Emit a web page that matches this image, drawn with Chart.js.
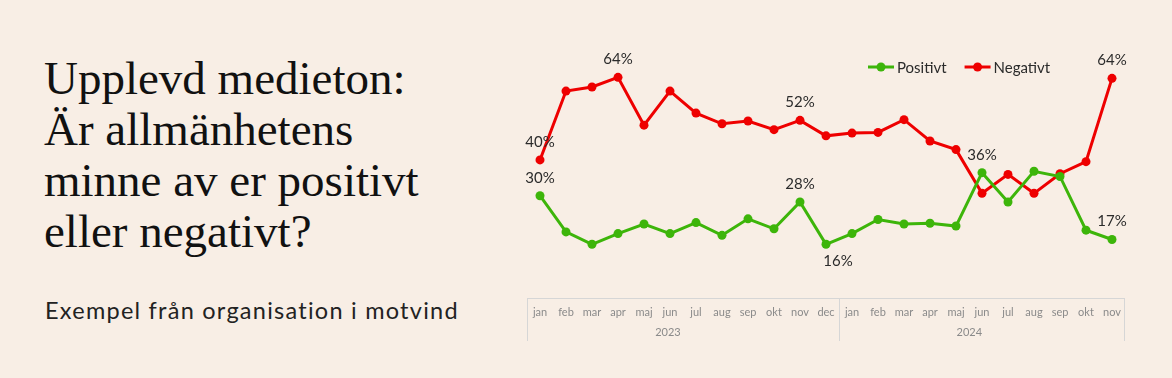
<!DOCTYPE html>
<html>
<head>
<meta charset="utf-8">
<script src="https://cdn.jsdelivr.net/npm/chart.js@4"></script>
<style>
    html, body {
        margin: 0;
        padding: 0;
        width: 1172px;
        height: 378px;
        background: #F8EEE5;
        overflow: hidden;
    }
    #title {
        position: absolute;
        left: 44px;
        top: 53px;
        margin: 0;
        font-family: "Liberation Serif", "DejaVu Serif", serif;
        font-weight: normal;
        font-size: 47px;
        line-height: 51px;
        color: #111;
    }
    #subtitle {
        position: absolute;
        left: 45px;
        top: 296px;
        margin: 0;
        font-family: "Lato", sans-serif;
        font-size: 23.5px;
        letter-spacing: 1.25px;
        color: #222;
    }
    #chartBox {
        position: absolute;
        left: 520px;
        top: 0;
        width: 652px;
        height: 378px;
    }
</style>
</head>
<body>
<h1 id="title">Upplevd medieton:<br>Är allmänhetens<br>minne av er positivt<br>eller negativt?</h1>
<p id="subtitle">Exempel från organisation i motvind</p>
<div id="chartBox"><canvas id="toneChart" width="652" height="378"></canvas></div>

<script>
const months = ['jan', 'feb', 'mar', 'apr', 'maj', 'jun', 'jul', 'aug', 'sep', 'okt', 'nov', 'dec',
                'jan', 'feb', 'mar', 'apr', 'maj', 'jun', 'jul', 'aug', 'sep', 'okt', 'nov'];
const years = ['2023', '2024'];
const yearLengths = [12, 11];

const positivt = [29.7, 19.2, 15.6, 18.7, 21.5, 18.7, 21.9, 18.2, 23.0, 20.1, 27.9, 15.6,
                  18.7, 22.8, 21.5, 21.7, 20.9, 36.4, 27.9, 36.8, 35.3, 19.7, 17.0];
const negativt = [40.1, 60.1, 61.3, 64.1, 50.2, 60.1, 53.7, 50.6, 51.4, 48.9, 51.6, 47.1,
                  47.9, 48.1, 51.8, 45.6, 43.1, 30.4, 35.9, 30.4, 36.1, 39.6, 63.8];

// which points get a value label
const positivtLabels = [0, 10, 11, 17, 22];
const negativtLabels = [0, 3, 10, 22];

const GREEN = '#3DB50A';
const RED = '#EE0000';
const FONT = 'Lato, sans-serif';

// value labels above (or below) chosen points
const valueLabels = {
    id: 'valueLabels',
    afterDatasetsDraw(chart) {
        const ctx = chart.ctx;
        ctx.save();
        ctx.font = '15px ' + FONT;
        ctx.fillStyle = '#2b2b2b';
        ctx.textAlign = 'center';
        ctx.textBaseline = 'middle';
        chart.data.datasets.forEach((ds, di) => {
            const meta = chart.getDatasetMeta(di);
            ds.labelIndexes.forEach(i => {
                const pt = meta.data[i];
                const below = ds.data[i] < 17 && i === 11;
                const x = below ? pt.x + 12 : pt.x;
                const y = below ? pt.y + 17 : pt.y - 18;
                ctx.fillText(Math.round(ds.data[i]) + '%', x, y);
            });
        });
        ctx.restore();
    }
};

// legend drawn in the upper right, line with a dot
const lineLegend = {
    id: 'lineLegend',
    afterDraw(chart) {
        const ctx = chart.ctx;
        const area = chart.chartArea;
        let x = area.right - 257;
        const y = 67;
        ctx.save();
        ctx.font = '15px ' + FONT;
        ctx.textBaseline = 'middle';
        chart.data.datasets.forEach(ds => {
            ctx.strokeStyle = ds.borderColor;
            ctx.fillStyle = ds.borderColor;
            ctx.lineWidth = 3;
            ctx.beginPath();
            ctx.moveTo(x, y);
            ctx.lineTo(x + 26, y);
            ctx.stroke();
            ctx.beginPath();
            ctx.arc(x + 13, y, 4.5, 0, Math.PI * 2);
            ctx.fill();
            ctx.fillStyle = '#2b2b2b';
            ctx.fillText(ds.label, x + 29, y + 1);
            x += 29 + ctx.measureText(ds.label).width + 18;
        });
        ctx.restore();
    }
};

// box around the month axis with year row
const axisBox = {
    id: 'axisBox',
    afterDraw(chart) {
        const ctx = chart.ctx;
        const sx = chart.scales.x;
        const step = sx.getPixelForValue(1) - sx.getPixelForValue(0);
        const top = sx.top;
        const bottom = sx.bottom;
        ctx.save();
        ctx.strokeStyle = '#D6D6D6';
        ctx.lineWidth = 1;
        ctx.beginPath();
        ctx.moveTo(sx.left, top + 0.5);
        ctx.lineTo(sx.right, top + 0.5);
        ctx.moveTo(Math.round(sx.left) + 0.5, top);
        ctx.lineTo(Math.round(sx.left) + 0.5, bottom);
        ctx.moveTo(Math.round(sx.right) - 0.5, top);
        ctx.lineTo(Math.round(sx.right) - 0.5, bottom);
        const split = Math.round(sx.getPixelForValue(yearLengths[0] - 1) + step / 2) + 0.5;
        ctx.moveTo(split, top);
        ctx.lineTo(split, bottom);
        ctx.stroke();

        ctx.font = '11px ' + FONT;
        ctx.fillStyle = '#8a8a8a';
        ctx.textAlign = 'center';
        ctx.textBaseline = 'middle';
        let start = 0;
        years.forEach((yr, k) => {
            const mid = start + yearLengths[k] * 0.41;
            ctx.fillText(yr, sx.getPixelForValue(0) + mid * step, top + 34);
            start += yearLengths[k];
        });
        ctx.restore();
    }
};

const ctx1 = document.getElementById('toneChart').getContext('2d');

const chartData = {
    labels: months,
    datasets: [
        {
            label: 'Positivt',
            data: positivt,
            labelIndexes: positivtLabels,
            borderColor: GREEN,
            backgroundColor: GREEN,
            pointBackgroundColor: GREEN,
            borderWidth: 3,
            pointRadius: 4.5,
            pointBorderWidth: 0,
            tension: 0,
            clip: false
        },
        {
            label: 'Negativt',
            data: negativt,
            labelIndexes: negativtLabels,
            borderColor: RED,
            backgroundColor: RED,
            pointBackgroundColor: RED,
            borderWidth: 3,
            pointRadius: 4.5,
            pointBorderWidth: 0,
            tension: 0,
            clip: false
        }
    ]
};

const config = {
    type: 'line',
    data: chartData,
    options: {
        responsive: false,
        animation: false,
        layout: {
            padding: { left: 7, right: 47, top: 57, bottom: 37 }
        },
        plugins: {
            legend: { display: false },
            tooltip: { enabled: false }
        },
        scales: {
            x: {
                offset: true,
                grid: { display: false, drawTicks: false },
                border: { display: false },
                ticks: {
                    autoSkip: false,
                    maxRotation: 0,
                    padding: 8,
                    color: '#8a8a8a',
                    font: { family: FONT, size: 11 }
                },
                afterFit(scale) {
                    scale.height = 43;
                }
            },
            y: {
                display: false,
                min: 0,
                max: 70
            }
        }
    },
    plugins: [valueLabels, lineLegend, axisBox]
};

const myChart = new Chart(ctx1, config);
</script>
</body>
</html>
